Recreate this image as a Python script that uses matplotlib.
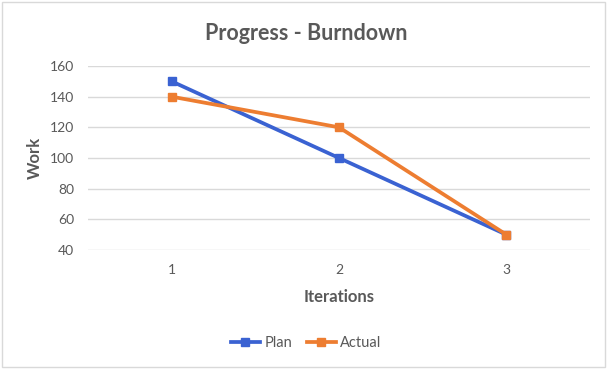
import matplotlib.pyplot as plt
from matplotlib.patches import Rectangle

# data
iterations = ['1', '2', '3']
plan = [150, 100, 50]
actual = [140, 120, 50]
y_ticks = [40, 60, 80, 100, 120, 140, 160]

plt.rcParams['font.family'] = ['Lato', 'DejaVu Sans']
grey = '#595959'

fig = plt.figure(figsize=(6.12, 3.74), dpi=100)
ax = fig.add_axes([0.1438, 0.3316, 0.8203, 0.4919])

x = range(1, len(iterations) + 1)
ax.plot(x, plan, color='#3A62D2', lw=2.7, marker='s', ms=6, label='Plan', zorder=3)
ax.plot(x, actual, color='#ED7D31', lw=2.7, marker='s', ms=6, label='Actual', zorder=4)

ax.set_xlim(0.5, 3.5)
ax.set_ylim(40, 160)
ax.set_yticks(y_ticks)
ax.set_xticks(list(x))
ax.set_xticklabels(iterations)
ax.tick_params(length=0, colors=grey, labelsize=10)
ax.tick_params(axis='x', pad=10)
ax.tick_params(axis='y', pad=10)
ax.grid(axis='y', color='#D9D9D9', lw=1)
ax.set_axisbelow(True)
for s in ax.spines.values():
    s.set_visible(False)

# axis titles and chart title
fig.text(35 / 612, 1 - 158 / 374, 'Work', rotation=90, ha='center', va='center',
         fontsize=12, fontweight='bold', color=grey)
fig.text(339 / 612, 1 - 297 / 374, 'Iterations', ha='center', va='center',
         fontsize=12, fontweight='bold', color=grey)
fig.text(0.5, 1 - 33 / 374, 'Progress - Burndown', ha='center', va='center',
         fontsize=15.5, fontweight='bold', color=grey)

fig.legend(loc='center', bbox_to_anchor=(0.5, 1 - 343 / 374), ncol=2, frameon=False,
           fontsize=10.5, labelcolor=grey, handlelength=2.0, columnspacing=1.0,
           handletextpad=0.3)

# outer chart frame
fig.patches.append(Rectangle((2 / 612, 7 / 374), 603 / 612, 365 / 374,
                             transform=fig.transFigure, fill=False,
                             edgecolor='#D9D9D9', lw=1))

fig.savefig('out.png', dpi=100)
